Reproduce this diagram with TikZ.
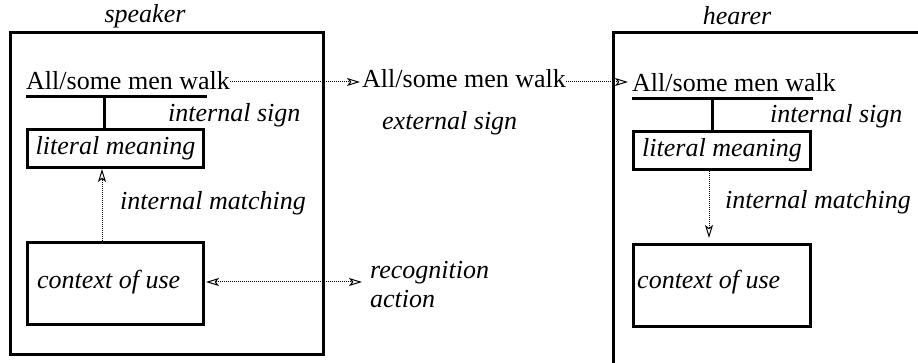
\documentclass[tikz,border=0pt]{standalone}
\usepackage{fontspec}
\setmainfont{Liberation Serif}
\usetikzlibrary{arrows.meta}
\begin{document}
\begin{tikzpicture}[x=1pt,y=-1pt,
  txt/.style={inner sep=0pt, font=\fontsize{26}{30}\selectfont},
  itxt/.style={inner sep=0pt, font=\fontsize{26}{30}\selectfont\itshape},
  frame/.style={draw, line width=3pt},
  bar/.style={line width=3pt},
  conn/.style={densely dotted, line width=1pt, -{Stealth[open, length=13pt, width=8pt, inset=3pt]}},
  conn2/.style={densely dotted, line width=1pt, {Stealth[open, length=13pt, width=8pt, inset=3pt]}-{Stealth[open, length=13pt, width=8pt, inset=3pt]}}
]
\useasboundingbox (0,0) rectangle (918,363);
% outer frames
\draw[frame] (10,33) rectangle (323,354);
\draw[frame] (930,33) -- (613,33) -- (613,380);
\node[itxt] (spk) at (145,16) {speaker};
\node[itxt] (hrr) at (737,16) {hearer};
% speaker
\node[txt, anchor=base west] (s1) at (26,90) {All/some men walk};
\coordinate (su1) at (26,97);
\coordinate (su2) at (207,97);
\draw[bar] (su1) -- (su2);
\node[frame, itxt, minimum width=176pt, minimum height=38pt, anchor=north west] (slm) at (26,128) {literal meaning};
\draw[bar] (104,97) -- (104,128);
\node[itxt, anchor=west] (sis) at (168,115) {internal sign};
\node[itxt, anchor=west] (sim) at (120,203) {internal matching};
\node[frame, minimum width=176pt, minimum height=82pt, anchor=north west, inner sep=0pt] (scu) at (26,241) {};
\node[itxt, anchor=west] (sct) at (37,282) {context of use};
\draw[conn] (scu.north -| 102,0) -- (slm.south -| 102,0);
% middle
\node[txt, anchor=base west] (m1) at (362,88) {All/some men walk};
\node[itxt, anchor=west] (ext) at (382,123) {external sign};
\node[itxt, anchor=west] (rec) at (370,273) {recognition};
\node[itxt, anchor=west] (act) at (370,299) {action};
\coordinate (ra) at (362,282);
% hearer
\node[txt, anchor=base west] (h1) at (632,92) {All/some men walk};
\draw[bar] (632,99) -- (813,99);
\node[frame, itxt, minimum width=177pt, minimum height=38pt, anchor=north west] (hlm) at (632,130) {literal meaning};
\draw[bar] (712,99) -- (712,130);
\node[itxt, anchor=west] (his) at (770,116) {internal sign};
\node[itxt, anchor=west] (him) at (725,202) {internal matching};
\node[frame, minimum width=177pt, minimum height=82pt, anchor=north west, inner sep=0pt] (hcu) at (632,243) {};
\node[itxt, anchor=west] (hct) at (637,282) {context of use};
\draw[conn] (hlm.south -| 709,0) -- ([yshift=5pt]hcu.north -| 709,0);
% connectors
\draw[conn] (s1.east |- 0,82) -- ([xshift=-2pt]m1.west |- 0,82);
\draw[conn] (m1.east |- 0,82) -- ([xshift=-4pt]h1.west |- 0,82);
\draw[conn2] ([xshift=1pt]scu.east |- 0,282) -- (ra);
\end{tikzpicture}
\end{document}
